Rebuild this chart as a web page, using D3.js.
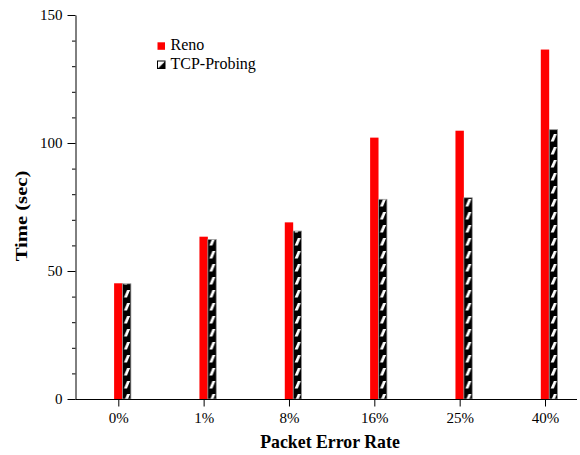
<!DOCTYPE html>
<html>
<head>
<meta charset="utf-8">
<script src="https://cdn.jsdelivr.net/npm/d3@7"></script>
<style>
  html, body { margin: 0; padding: 0; background: #fff; }
  svg { display: block; }
</style>
</head>
<body>
<svg id="chart" width="580" height="455" font-family="'Liberation Serif', 'Times New Roman', serif"></svg>
<script>
// Completion time per packet error rate
const categories = ["0%", "1%", "8%", "16%", "25%", "40%"];
const renoValues = [45.2, 63.4, 69.0, 102.1, 104.8, 136.5];
const probingValues = [45.0, 62.3, 65.6, 78.0, 78.6, 105.2];
const seriesNames = ["Reno", "TCP-Probing"];
const yMajorTicks = [0, 50, 100, 150];
const yMinorTicks = d3.range(0, 151, 10).filter(v => v % 50 !== 0);

const serif = "'Liberation Serif', 'Times New Roman', serif";
const svg = d3.select("#chart");

const y = d3.scaleLinear().domain([0, 150]).range([399, 15]);
const x = d3.scalePoint().domain(categories).range([118.3, 545]);
const barW = 8.4;
const axisX = 75.5;
const axisY = 399.5;

// Stripe pattern for the TCP-Probing bars, anchored to each bar
const defs = svg.append("defs");
categories.forEach((c, i) => {
  const p = defs.append("pattern")
    .attr("id", "stripes" + i)
    .attr("patternUnits", "userSpaceOnUse")
    .attr("x", x(c) + barW / 2)
    .attr("y", 0)
    .attr("width", barW)
    .attr("height", 13);
  p.append("rect").attr("width", barW).attr("height", 13).attr("fill", "#000");
  p.append("polygon")
    .attr("points", "1.5,11.5 4.5,11.5 7.6,4 4.6,4")
    .attr("fill", "#fff");
});
const legendPat = defs.append("pattern")
  .attr("id", "legendHatch")
  .attr("patternUnits", "objectBoundingBox")
  .attr("width", 1).attr("height", 1);
legendPat.append("rect").attr("width", 8).attr("height", 8).attr("fill", "#fff");
legendPat.append("polygon").attr("points", "8,0 8,8 0,8").attr("fill", "#000");

// Bars
const g = svg.append("g");
g.selectAll("rect.reno")
  .data(categories)
  .join("rect")
  .attr("class", "reno")
  .attr("x", d => x(d) - barW / 2)
  .attr("y", (d, i) => y(renoValues[i]))
  .attr("width", barW)
  .attr("height", (d, i) => y(0) - y(renoValues[i]))
  .attr("fill", "#ff0000");

g.selectAll("rect.probing")
  .data(categories)
  .join("rect")
  .attr("class", "probing")
  .attr("x", d => x(d) + barW / 2)
  .attr("y", (d, i) => y(probingValues[i]))
  .attr("width", barW)
  .attr("height", (d, i) => y(0) - y(probingValues[i]))
  .attr("fill", (d, i) => `url(#stripes${i})`)
  .attr("stroke", "#999")
  .attr("stroke-width", 0.8);

// Y axis: major ticks with labels, minor ticks without
const yAxis = svg.append("g")
  .attr("transform", `translate(${axisX},0)`)
  .call(d3.axisLeft(y).tickValues(yMajorTicks).tickSize(8).tickSizeOuter(0).tickPadding(5));
yAxis.attr("font-family", serif).attr("font-size", 15);
yAxis.select(".domain").attr("stroke", "#000");

svg.append("g")
  .attr("transform", `translate(${axisX},0)`)
  .call(d3.axisLeft(y).tickValues(yMinorTicks).tickSize(3.5).tickFormat(""))
  .call(a => a.select(".domain").remove());

// X axis
const xAxis = svg.append("g")
  .attr("transform", `translate(0,${axisY})`)
  .call(d3.axisBottom(x).tickSize(7).tickPadding(6));
xAxis.select(".domain").remove();
xAxis.attr("font-family", serif).attr("font-size", 15);
svg.append("line")
  .attr("x1", axisX).attr("x2", 577)
  .attr("y1", axisY).attr("y2", axisY)
  .attr("stroke", "#000");

// Axis titles
svg.append("text")
  .attr("x", 330).attr("y", 448)
  .attr("text-anchor", "middle")
  .attr("font-family", serif)
  .attr("font-size", 17.8)
  .attr("font-weight", "bold")
  .text("Packet Error Rate");

svg.append("text")
  .attr("transform", "translate(27,216) rotate(-90) scale(1.25,1)")
  .attr("text-anchor", "middle")
  .attr("font-family", serif)
  .attr("font-size", 16.5)
  .attr("font-weight", "bold")
  .text("Time (sec)");

// Legend
const legend = svg.append("g");
const legendRows = [
  { name: seriesNames[0], fill: "#ff0000", stroke: "none", y: 42.3 },
  { name: seriesNames[1], fill: "url(#legendHatch)", stroke: "#000", y: 61 }
];
legend.selectAll("rect")
  .data(legendRows)
  .join("rect")
  .attr("x", 157.5)
  .attr("y", d => d.y)
  .attr("width", 7.5)
  .attr("height", 7.5)
  .attr("fill", d => d.fill)
  .attr("stroke", d => d.stroke)
  .attr("stroke-width", 1);
legend.selectAll("text")
  .data(legendRows)
  .join("text")
  .attr("x", 170.5)
  .attr("y", d => d.y + 8)
  .attr("font-family", serif)
  .attr("font-size", 16)
  .text(d => d.name);
</script>
</body>
</html>
